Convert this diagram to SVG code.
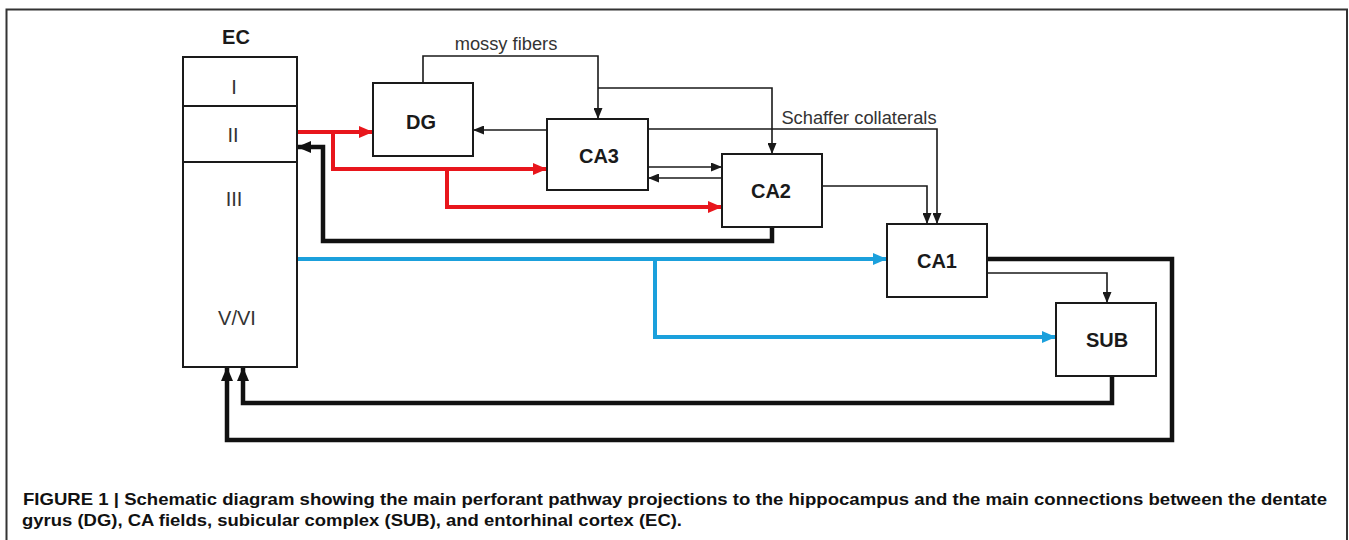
<svg xmlns="http://www.w3.org/2000/svg" width="1349" height="540" viewBox="0 0 1349 540">
<style>
.box{fill:#fff;stroke:#1a1a1a;stroke-width:2}
.lbl{font-family:"Liberation Sans",Arial,sans-serif;font-size:20px;font-weight:bold;fill:#1a1a1a;text-anchor:middle}
.rom{font-family:"Liberation Sans",Arial,sans-serif;font-size:20px;fill:#333;text-anchor:middle}
.note{font-family:"Liberation Sans",Arial,sans-serif;font-size:18.3px;fill:#333;text-anchor:middle}
.cap{font-family:"Liberation Sans",Arial,sans-serif;font-size:17px;font-weight:bold;fill:#111}
.thin{fill:none;stroke:#1a1a1a;stroke-width:1.6;marker-end:url(#aThin)}
.thk{fill:none;stroke:#111;stroke-width:4.5;marker-end:url(#aBlk)}
.red{fill:none;stroke:#e8161c;stroke-width:4;marker-end:url(#aRed)}
.blu{fill:none;stroke:#1ba0dc;stroke-width:4;marker-end:url(#aBlu)}
</style>
<defs>
<marker id="aThin" markerUnits="userSpaceOnUse" markerWidth="11" markerHeight="9" refX="11" refY="4.5" orient="auto"><path d="M0,0 L11,4.5 L0,9 z" fill="#1a1a1a"/></marker>
<marker id="aBlk" markerUnits="userSpaceOnUse" markerWidth="14" markerHeight="12" refX="14" refY="6" orient="auto"><path d="M0,0 L14,6 L0,12 z" fill="#111"/></marker>
<marker id="aRed" markerUnits="userSpaceOnUse" markerWidth="14" markerHeight="12" refX="14" refY="6" orient="auto"><path d="M0,0 L14,6 L0,12 z" fill="#e8161c"/></marker>
<marker id="aBlu" markerUnits="userSpaceOnUse" markerWidth="14" markerHeight="12" refX="14" refY="6" orient="auto"><path d="M0,0 L14,6 L0,12 z" fill="#1ba0dc"/></marker>
</defs>
<rect x="0" y="0" width="1349" height="540" fill="#fff"/>
<path d="M6.5,540 V9.5 H1347 V540" fill="none" stroke="#333" stroke-width="2"/>

<g id="connectors">
<path class="thin" d="M423,83 V56 H598 V119"/>
<path class="thin" d="M598,88 H772 V154"/>
<path class="thin" d="M547,130 H473"/>
<path class="thin" d="M648,129 H937 V224"/>
<path class="thin" d="M822,186 H927 V224"/>
<path class="thin" d="M648,167 H722"/>
<path class="thin" d="M722,178 H648"/>
<path class="thin" d="M987,273 H1107 V303"/>
<path class="red" d="M297,132 H373"/>
<path class="red" d="M333,132 V169 H547"/>
<path class="red" d="M447,169 V207 H722"/>
<path class="blu" d="M297,259 H887"/>
<path class="blu" d="M655,259 V337 H1056"/>
<path class="thk" d="M772,227 V241 H323 V147 H297"/>
<path class="thk" d="M987,259 H1172 V440 H227 V367"/>
<path class="thk" d="M1112,376 V403 H243 V367"/>
<text class="note" x="506" y="50">mossy fibers</text>
<text class="note" x="859" y="124">Schaffer collaterals</text>
</g>

<g id="EC">
<text class="lbl" x="236" y="44">EC</text>
<rect class="box" x="183" y="57" width="114" height="310"/>
<line x1="183" y1="106" x2="297" y2="106" stroke="#1a1a1a" stroke-width="2"/>
<line x1="183" y1="162" x2="297" y2="162" stroke="#1a1a1a" stroke-width="2"/>
<text class="rom" x="234" y="94">I</text>
<text class="rom" x="233" y="142">II</text>
<text class="rom" x="234" y="206">III</text>
<text class="rom" x="237" y="325">V/VI</text>
</g>
<g id="DG"><rect class="box" x="373" y="83" width="100" height="73"/><text class="lbl" x="421" y="129">DG</text></g>
<g id="CA3"><rect class="box" x="547" y="119" width="101" height="71"/><text class="lbl" x="599" y="163">CA3</text></g>
<g id="CA2"><rect class="box" x="722" y="154" width="100" height="73"/><text class="lbl" x="771" y="198">CA2</text></g>
<g id="CA1"><rect class="box" x="887" y="224" width="100" height="73"/><text class="lbl" x="937" y="268">CA1</text></g>
<g id="SUB"><rect class="box" x="1056" y="303" width="100" height="73"/><text class="lbl" x="1107" y="347">SUB</text></g>

<g id="caption">
<text class="cap" x="23" y="505" textLength="1304" lengthAdjust="spacingAndGlyphs">FIGURE 1 | Schematic diagram showing the main perforant pathway projections to the hippocampus and the main connections between the dentate</text>
<text class="cap" x="22" y="526" textLength="660" lengthAdjust="spacingAndGlyphs">gyrus (DG), CA fields, subicular complex (SUB), and entorhinal cortex (EC).</text>
</g>
</svg>
